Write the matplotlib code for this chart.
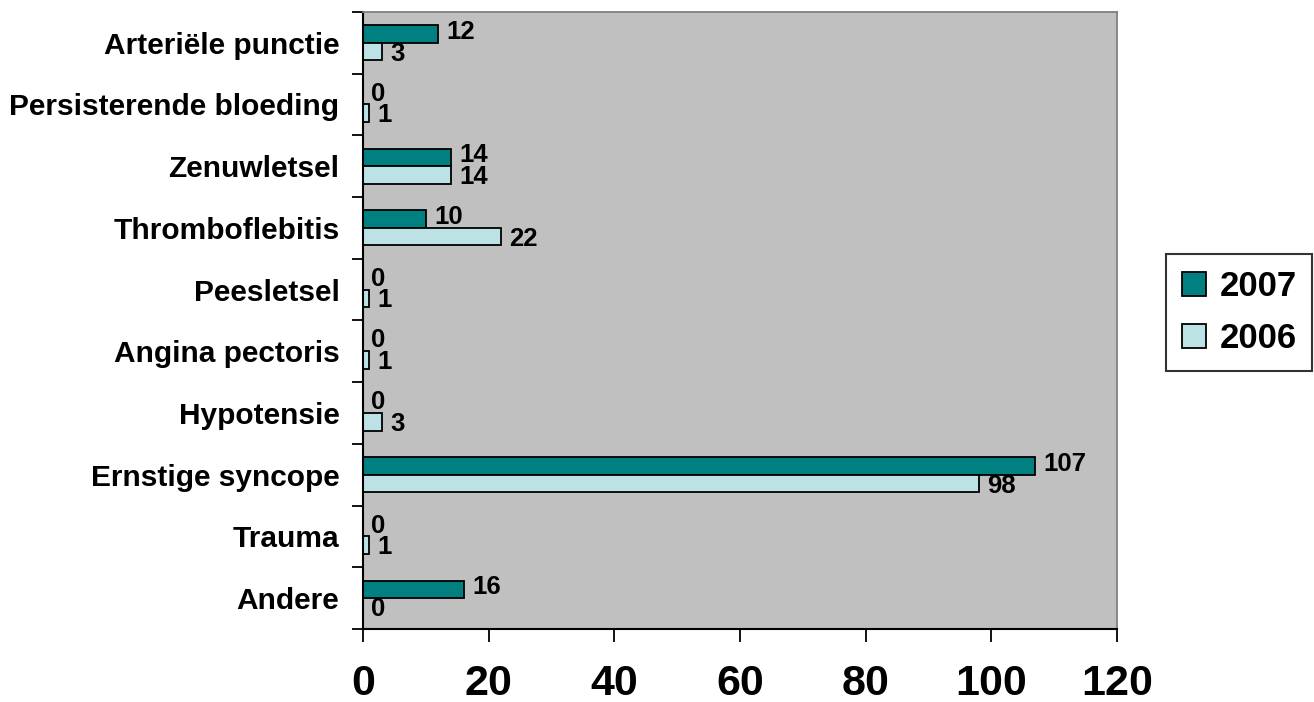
import matplotlib
matplotlib.use("Agg")
import matplotlib.pyplot as plt
import numpy as np

categories = [
    "Arteriële punctie",
    "Persisterende bloeding",
    "Zenuwletsel",
    "Thromboflebitis",
    "Peesletsel",
    "Angina pectoris",
    "Hypotensie",
    "Ernstige syncope",
    "Trauma",
    "Andere",
]
values_2007 = [12, 0, 14, 10, 0, 0, 0, 107, 0, 16]
values_2006 = [3, 1, 14, 22, 1, 1, 3, 98, 1, 0]
series_labels = ["2007", "2006"]
x_ticks = [0, 20, 40, 60, 80, 100, 120]

plt.rcParams["font.family"] = ["Liberation Sans", "DejaVu Sans"]

fig = plt.figure(figsize=(13.14, 7.02), dpi=100)
ax = fig.add_axes([0.2763, 0.104, 0.5737, 0.879])
ax.set_facecolor("#C0C0C0")

y = np.arange(len(categories))
h = 0.285
teal = "#008080"
light = "#BDE2E5"

b1 = ax.barh(y - h / 2, values_2007, height=h, color=teal, edgecolor="black",
             linewidth=1.3, label=series_labels[0])
b2 = ax.barh(y + h / 2, values_2006, height=h, color=light, edgecolor="black",
             linewidth=1.3, label=series_labels[1])

for bars, vals, dy in ((b1, values_2007, 1.5), (b2, values_2006, -1.5)):
    for bar, v in zip(bars, vals):
        ax.annotate(str(v), xy=(v, bar.get_y() + bar.get_height() / 2),
                    xytext=(6, dy), textcoords="offset points",
                    ha="left", va="center", fontsize=18.5, fontweight="bold")

ax.set_xlim(0, 120)
ax.set_ylim(len(categories) - 0.5, -0.5)

ax.set_xticks(x_ticks)
ax.set_xticklabels([str(t) for t in x_ticks], fontsize=31, fontweight="bold")
ax.tick_params(axis="x", length=9, width=1.3, direction="out", pad=16)

ax.set_yticks(y)
ax.set_yticklabels(categories, fontsize=21.5, fontweight="bold")
ax.tick_params(axis="y", which="major", length=0, pad=17)
ax.set_yticks(np.arange(len(categories) + 1) - 0.5, minor=True)
ax.tick_params(axis="y", which="minor", length=8, width=1.3, direction="out")

for side in ("top", "right"):
    ax.spines[side].set_color("#808080")
    ax.spines[side].set_linewidth(1.3)
for side in ("left", "bottom"):
    ax.spines[side].set_color("black")
    ax.spines[side].set_linewidth(1.5)

leg = ax.legend(loc="center left", bbox_to_anchor=(1.065, 0.513), frameon=True,
                fancybox=False, edgecolor="black", prop={"size": 25, "weight": "bold"},
                handlelength=0.7, handleheight=0.7, handletextpad=0.4,
                borderpad=0.45, labelspacing=0.55, borderaxespad=0)
leg.get_frame().set_linewidth(1.5)

fig.savefig("out.png", dpi=100)
